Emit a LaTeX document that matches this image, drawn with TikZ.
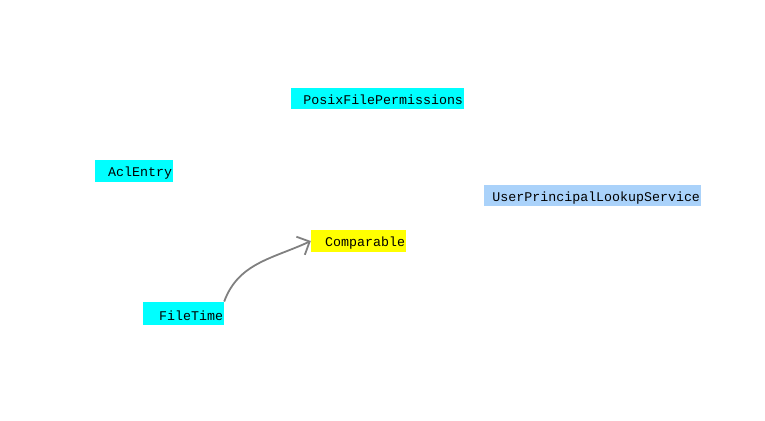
\documentclass[tikz,border=0pt]{standalone}
\usepackage{fontspec}
\newfontfamily\classfont{Liberation Mono}
\usetikzlibrary{arrows.meta,positioning}

\definecolor{hlcyan}{RGB}{0,255,255}
\definecolor{hlyellow}{RGB}{255,255,0}
\definecolor{hlblue}{RGB}{170,210,250}
\definecolor{linkgray}{RGB}{128,128,128}

\begin{document}
\begin{tikzpicture}[
  x=1pt, y=-1pt,
  cls/.style={fill=hlcyan, inner xsep=1pt, inner ysep=1.5pt, align=right, text height=15pt, text depth=3.5pt, font=\classfont\fontsize{13.3}{14}\selectfont},
  iface/.style={cls, fill=hlyellow},
  service/.style={cls, fill=hlblue},
  link/.style={-{Straight Barb[length=10pt, width=20pt]}, draw=linkgray, line width=1.8pt}
]
\useasboundingbox (0,0) rectangle (765,420);
\node[cls, text width=171pt] (posix) at (377.5,98.5) {PosixFilePermissions};
\node[cls, text width=76pt] (acl) at (134,171) {AclEntry};
\node[service, text width=215pt] (lookup) at (592.5,195.5) {UserPrincipalLookupService};
\node[iface, text width=93pt] (comparable) at (358.5,241) {Comparable};
\node[cls, text width=79pt, text height=17pt] (filetime) at (183.5,313.5) {FileTime};
\draw[link] (filetime.north east) to[out=70, in=205] (comparable.west);
\end{tikzpicture}
\end{document}
